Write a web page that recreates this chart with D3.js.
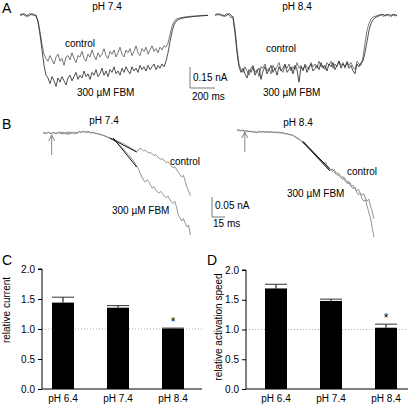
<!DOCTYPE html>
<html><head><meta charset="utf-8">
<script src="https://cdn.jsdelivr.net/npm/d3@7"></script>
<style>body{margin:0;background:#fff}svg{display:block}text{font-family:"Liberation Sans",Arial,sans-serif;fill:#000}</style>
</head><body><svg id="c" width="415" height="404"></svg>
<script>
// ---------------- DATA ----------------
// Panel A: whole-cell current traces (nA), sampled every dtA ms
const dtA = 16;
const aCtl74 = [0,0.01,0,-0.01,0,0.01,0,0,-0.01,
 -0.04,-0.12,-0.21,-0.28,-0.31,
 -0.33,-0.29,-0.32,-0.35,-0.30,-0.28,-0.33,-0.31,-0.36,-0.30,
 -0.29,-0.32,-0.27,-0.31,-0.34,-0.29,-0.30,-0.26,-0.31,-0.33,
 -0.28,-0.30,-0.25,-0.29,-0.32,-0.27,-0.30,-0.28,-0.24,-0.29,
 -0.31,-0.26,-0.28,-0.25,-0.30,-0.27,-0.23,-0.28,-0.30,-0.25,
 -0.27,-0.24,-0.29,-0.26,-0.22,-0.27,-0.29,-0.24,-0.26,-0.23,
 -0.28,-0.25,-0.22,-0.26,-0.24,-0.27,-0.23,-0.25,-0.22,
 -0.23,-0.20,-0.14,-0.08,-0.05,-0.03,-0.025,-0.02,
 -0.018,-0.015,-0.013,-0.012,-0.01,-0.009,-0.008,-0.007,-0.006,-0.005,-0.004,-0.003,-0.002,-0.001];
const aFbm74 = [0,0,0.01,0,-0.01,0,0.01,0,0,
 -0.05,-0.14,-0.25,-0.36,-0.43,
 -0.45,-0.49,-0.44,-0.47,-0.51,-0.45,-0.48,-0.44,-0.47,-0.50,
 -0.45,-0.43,-0.47,-0.44,-0.41,-0.46,-0.43,-0.45,-0.40,-0.44,
 -0.42,-0.46,-0.41,-0.43,-0.39,-0.44,-0.42,-0.38,-0.43,-0.40,
 -0.44,-0.39,-0.41,-0.37,-0.42,-0.40,-0.43,-0.38,-0.41,-0.37,
 -0.40,-0.42,-0.37,-0.40,-0.38,-0.41,-0.36,-0.39,-0.37,-0.40,
 -0.36,-0.39,-0.37,-0.35,-0.39,-0.36,-0.38,-0.35,-0.37,
 -0.33,-0.27,-0.19,-0.12,-0.07,-0.045,-0.035,-0.028,
 -0.024,-0.02,-0.018,-0.016,-0.014,-0.012,-0.01,-0.009,-0.008,-0.007,-0.006,-0.005,-0.004,-0.003];
const aCtl84 = [0,0.01,0,0,-0.01,0,0.01,0,-0.02,
 -0.01,-0.10,-0.24,-0.35,-0.39,
 -0.41,-0.37,-0.40,-0.43,-0.38,-0.36,-0.41,-0.39,-0.44,-0.37,
 -0.38,-0.35,-0.40,-0.38,-0.42,-0.36,-0.39,-0.37,-0.34,-0.39,
 -0.41,-0.36,-0.38,-0.35,-0.40,-0.37,-0.39,-0.34,-0.38,-0.36,
 -0.40,-0.35,-0.37,-0.39,-0.34,-0.37,-0.35,-0.38,-0.33,-0.37,
 -0.36,-0.39,-0.34,-0.36,-0.33,-0.38,-0.35,-0.37,-0.33,-0.36,
 -0.34,-0.38,-0.33,-0.36,-0.34,-0.37,-0.39,-0.33,-0.35,-0.36,
 -0.30,-0.20,-0.11,-0.06,-0.03,-0.015,-0.01,-0.005,
 0,0.005,-0.01,0,0.005,-0.01,0,0.005,-0.008,0];
const aFbm84 = [0,0,0.01,0,0,-0.01,0,0.01,0,
 -0.02,-0.13,-0.27,-0.37,-0.41,
 -0.38,-0.42,-0.45,-0.39,-0.41,-0.37,-0.43,-0.40,-0.38,-0.46,
 -0.40,-0.37,-0.42,-0.39,-0.36,-0.41,-0.38,-0.43,-0.37,-0.40,
 -0.38,-0.35,-0.41,-0.39,-0.37,-0.42,-0.36,-0.39,-0.48,-0.37,
 -0.39,-0.36,-0.41,-0.37,-0.35,-0.40,-0.38,-0.36,-0.39,-0.34,
 -0.38,-0.36,-0.40,-0.35,-0.37,-0.34,-0.39,-0.36,-0.33,-0.38,
 -0.35,-0.37,-0.34,-0.38,-0.36,-0.40,-0.42,-0.35,-0.37,-0.34,
 -0.33,-0.27,-0.19,-0.11,-0.06,-0.035,-0.02,-0.012,-0.006,0,
 0.005,-0.008,0,0.005,-0.01,0,0.004,-0.006];

// Panel B: activation onset (nA), sampled every dtB ms
const dtB = 2;
const bCtl74 = [0,0.001,-0.002,0.002,0,-0.002,0.001,0,-0.001,0.002,
 -0.002,0.003,-0.003,0.002,-0.004,0.003,-0.002,0.001,-0.003,0.002,
 0,0.003,0.001,0.004,0.002,0.004,0.001,0.003,0,0.002,
 0,-0.001,-0.002,-0.003,-0.005,-0.006,-0.008,-0.010,-0.011,-0.013,
 -0.015,-0.016,-0.018,-0.020,-0.022,-0.024,-0.026,-0.028,-0.031,-0.033,
 -0.036,-0.038,-0.041,-0.044,-0.047,-0.042,-0.038,-0.041,-0.045,-0.043,
 -0.047,-0.050,-0.048,-0.053,-0.056,-0.054,-0.059,-0.063,-0.066,-0.064,
 -0.070,-0.074,-0.072,-0.077,-0.082,-0.087,-0.084,-0.091,-0.098,-0.104,
 -0.110,-0.106,-0.120,-0.136,-0.145,-0.157];
const bFbm74 = [0.001,-0.001,0,0.002,-0.002,0,0.001,-0.002,0,0.001,
 0.002,-0.003,0.002,-0.002,0.003,-0.004,0.002,0,0.003,-0.002,
 0.001,0.004,0.002,0.005,0.003,0.001,0.004,0.002,0,0.001,
 -0.001,-0.002,-0.003,-0.004,-0.005,-0.007,-0.008,-0.010,-0.012,-0.014,
 -0.016,-0.019,-0.022,-0.026,-0.030,-0.034,-0.038,-0.043,-0.048,-0.053,
 -0.058,-0.063,-0.069,-0.075,-0.082,-0.090,-0.100,-0.110,-0.118,-0.123,
 -0.117,-0.121,-0.131,-0.138,-0.134,-0.142,-0.147,-0.150,-0.146,-0.152,
 -0.158,-0.162,-0.157,-0.165,-0.172,-0.176,-0.171,-0.185,-0.205,-0.212,
 -0.220,-0.214,-0.226,-0.235,-0.230,-0.255];
const bCtl84 = [0,-0.001,-0.002,-0.001,-0.003,-0.002,-0.004,-0.003,-0.005,-0.004,
 -0.006,-0.005,-0.007,-0.004,-0.006,-0.003,-0.005,-0.004,-0.006,-0.005,
 -0.004,-0.006,-0.005,-0.007,-0.005,-0.006,-0.008,-0.007,-0.009,-0.010,
 -0.011,-0.013,-0.012,-0.015,-0.018,-0.020,-0.023,-0.027,-0.031,-0.035,
 -0.039,-0.043,-0.047,-0.051,-0.056,-0.060,-0.064,-0.069,-0.073,-0.078,
 -0.082,-0.087,-0.091,-0.096,-0.100,-0.097,-0.104,-0.110,-0.106,-0.114,
 -0.120,-0.116,-0.125,-0.131,-0.127,-0.136,-0.142,-0.138,-0.147,-0.152,
 -0.148,-0.158,-0.163,-0.159,-0.170,-0.178,-0.173,-0.190,-0.205,-0.222];
const bFbm84 = [0.001,0,-0.002,0,-0.002,-0.003,-0.002,-0.004,-0.003,-0.005,
 -0.004,-0.006,-0.005,-0.003,-0.005,-0.004,-0.006,-0.005,-0.004,-0.006,
 -0.005,-0.007,-0.006,-0.005,-0.007,-0.008,-0.006,-0.008,-0.010,-0.009,
 -0.012,-0.011,-0.014,-0.016,-0.019,-0.022,-0.025,-0.028,-0.032,-0.036,
 -0.040,-0.044,-0.048,-0.053,-0.057,-0.062,-0.066,-0.070,-0.075,-0.079,
 -0.084,-0.080,-0.089,-0.094,-0.099,-0.104,-0.099,-0.108,-0.114,-0.110,
 -0.118,-0.124,-0.119,-0.129,-0.135,-0.130,-0.141,-0.147,-0.143,-0.155,
 -0.162,-0.158,-0.170,-0.178,-0.174,-0.190,-0.205,-0.220,-0.245,-0.268];
// linear fits of activation: [t0, v0, t1, v1]
const fits74 = [[77,-0.0125,108,-0.0475],[81,-0.0125,108,-0.085]];
const fits84 = [[76,-0.028,107,-0.098],[76,-0.030,107,-0.102]];
const arrowT = [10, 9];   // ms, drug application marker

// Panels C, D: bar charts
const categories = ["pH 6.4","pH 7.4","pH 8.4"];
const relCurrent = [1.44, 1.355, 1.005];
const relCurrentSem = [0.09, 0.035, 0.01];
const relSpeed = [1.69, 1.48, 1.03];
const relSpeedSem = [0.07, 0.03, 0.06];
const significant = [false, false, true];
const yTicks = [0, 0.5, 1.0, 1.5, 2.0];

// ---------------- DRAW ----------------
const svg = d3.select("#c");
const FS = 10;
function txt(x, y, s, opt={}) {
  return svg.append("text").attr("x", x).attr("y", y).text(s)
    .attr("font-size", opt.size || FS).attr("text-anchor", opt.anchor || "start");
}

function trace(vals, dt, xs, ys, color, w) {
  const line = d3.line().x((d,i)=>xs(i*dt)).y(d=>ys(d));
  svg.append("path").datum(vals).attr("d", line).attr("fill","none")
    .attr("stroke", color).attr("stroke-width", w).attr("stroke-linejoin","round");
}

// ---- Panel A ----
const xA1 = d3.scaleLinear().domain([0, 1504]).range([20, 208]);
const xA2 = d3.scaleLinear().domain([0, 1456]).range([215, 397]);
const yA = d3.scaleLinear().domain([-0.5, 0]).range([85, 15]);
trace(aCtl74, dtA, xA1, yA, "#555", 0.8);
trace(aFbm74, dtA, xA1, yA, "#222", 0.8);
trace(aCtl84, dtA, xA2, yA, "#555", 0.8);
trace(aFbm84, dtA, xA2, yA, "#222", 0.8);
txt(2, 13, "A", {size: 14});
txt(107, 10, "pH 7.4", {anchor: "middle"});
txt(297, 10, "pH 8.4", {anchor: "middle"});
txt(65, 47, "control");
txt(77, 96, "300 \u00b5M FBM");
txt(266, 52, "control");
txt(263, 96, "300 \u00b5M FBM");
// scale bar A
{
  const x0 = 190, yb = 88;
  const h = yA(-0.15) - yA(0), w = xA1(200) - xA1(0);
  svg.append("path").attr("d", `M${x0},${yb-h}V${yb}H${x0+w}`).attr("fill","none").attr("stroke","#555").attr("stroke-width",0.8);
  txt(193, 81, "0.15 nA");
  txt(192, 100, "200 ms");
}

// ---- Panel B ----
const xB1 = d3.scaleLinear().domain([0, 170]).range([43, 190.4]);
const xB2 = d3.scaleLinear().domain([0, 158]).range([237, 374]);
const yB1 = d3.scaleLinear().domain([-0.3, 0]).range([253, 133]);
const yB2 = d3.scaleLinear().domain([-0.3, 0]).range([250, 130]);
trace(bCtl74, dtB, xB1, yB1, "#7a7a7a", 0.8);
trace(bFbm74, dtB, xB1, yB1, "#7a7a7a", 0.8);
trace(bCtl84, dtB, xB2, yB2, "#7a7a7a", 0.8);
trace(bFbm84, dtB, xB2, yB2, "#7a7a7a", 0.8);
[[fits74, xB1, yB1], [fits84, xB2, yB2]].forEach(([fs, xs, ys]) => {
  fs.forEach(f => svg.append("line").attr("x1", xs(f[0])).attr("y1", ys(f[1]))
    .attr("x2", xs(f[2])).attr("y2", ys(f[3])).attr("stroke","#111").attr("stroke-width",1));
});
[[arrowT[0], xB1, yB1], [arrowT[1], xB2, yB2]].forEach(([t, xs, ys]) => {
  const x = xs(t), top = ys(0) + 2, bot = top + 20;
  svg.append("path").attr("d", `M${x},${bot}V${top}M${x-3},${top+6}L${x},${top}L${x+3},${top+6}`)
    .attr("fill","none").attr("stroke","#777").attr("stroke-width",0.9);
});
txt(2, 129, "B", {size: 14});
txt(104, 124, "pH 7.4", {anchor: "middle"});
txt(298, 126, "pH 8.4", {anchor: "middle"});
txt(170, 165, "control");
txt(112, 214, "300 \u00b5M FBM");
txt(347, 175, "control");
txt(287, 197, "300 \u00b5M FBM");
{
  const x0 = 212, yb = 217;
  const h = yB1(-0.05) - yB1(0), w = xB1(15) - xB1(0);
  svg.append("path").attr("d", `M${x0},${yb-h}V${yb}H${x0+w}`).attr("fill","none").attr("stroke","#555").attr("stroke-width",0.8);
  txt(215, 209, "0.05 nA");
  txt(213, 227, "15 ms");
}

// ---- Panels C, D ----
function barChart(letter, lx, axX, xEnd, bandRange, yTop, vals, sems, ylabel, labX, labY) {
  const x = d3.scaleBand().domain(categories).range(bandRange).paddingInner(0.6).paddingOuter(0.3);
  const y = d3.scaleLinear().domain([0, 2]).range([389, yTop]);
  const g = svg.append("g");
  // reference line at 1.0
  g.append("line").attr("x1", axX).attr("x2", xEnd).attr("y1", y(1)).attr("y2", y(1))
    .attr("stroke","#999").attr("stroke-width",0.8).attr("stroke-dasharray","1,2");
  // error bars (upper)
  categories.forEach((c,i) => {
    const cx = x(c) + x.bandwidth()/2;
    g.append("line").attr("x1",cx).attr("x2",cx).attr("y1",y(vals[i])).attr("y2",y(vals[i]+sems[i])).attr("stroke","#000").attr("stroke-width",1);
    g.append("line").attr("x1",x(c)).attr("x2",x(c)+x.bandwidth()).attr("y1",y(vals[i]+sems[i])).attr("y2",y(vals[i]+sems[i])).attr("stroke","#333").attr("stroke-width",1);
    if (significant[i]) g.append("text").attr("x",cx).attr("y",y(vals[i]+sems[i])-2).attr("text-anchor","middle").attr("font-size",12).text("*");
  });
  g.selectAll("rect").data(vals).join("rect")
    .attr("x",(d,i)=>x(categories[i])).attr("width",x.bandwidth())
    .attr("y",d=>y(d)).attr("height",d=>y(0)-y(d)).attr("fill","#000");
  // axes
  const ya = g.append("g").attr("transform",`translate(${axX},0)`)
    .call(d3.axisLeft(y).tickValues(yTicks).tickFormat(d3.format(".1f")).tickSize(4).tickPadding(3));
  ya.select(".domain").attr("d", `M-4,${y(2)}H0V${y(0)}`);
  ya.selectAll("text").attr("font-size", FS).attr("font-family",'"Liberation Sans",Arial,sans-serif');
  const xa = g.append("g").attr("transform",`translate(0,389)`)
    .call(d3.axisBottom(x).tickSize(0).tickPadding(6));
  xa.select(".domain").attr("d", `M${axX},0H${xEnd}`);
  xa.selectAll("text").attr("font-size", FS).attr("font-family",'"Liberation Sans",Arial,sans-serif');
  svg.append("text").attr("transform",`translate(${labX},${labY}) rotate(-90)`)
    .attr("text-anchor","middle").attr("font-size",FS).text(ylabel);
  txt(lx, 265, letter, {size: 14});
}
barChart("C", 2, 42, 202, [35.5, 200.5], 269, relCurrent, relCurrentSem, "relative current", 10, 310);
barChart("D", 207, 246, 408, [248.5, 413.5], 270, relSpeed, relSpeedSem, "relative activation speed", 222, 327);
</script></body></html>
